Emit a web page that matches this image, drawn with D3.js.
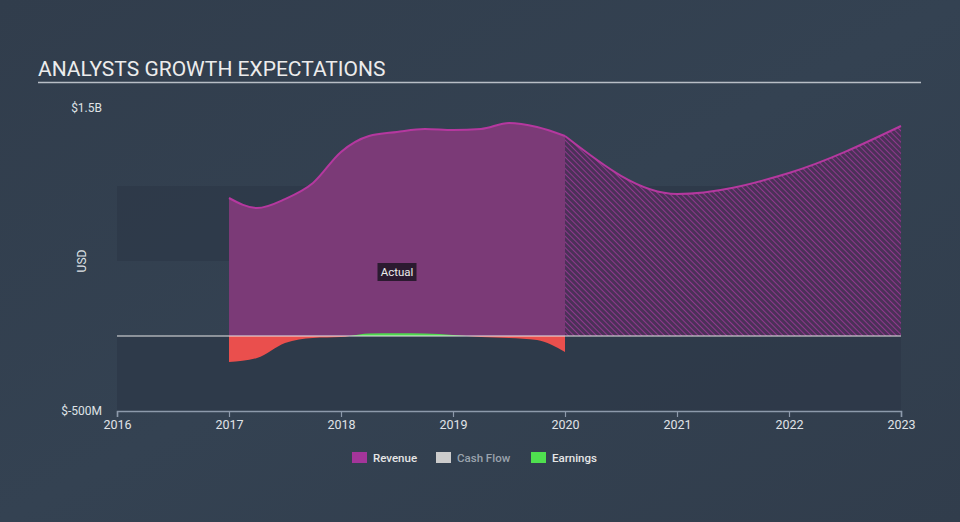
<!DOCTYPE html>
<html>
<head>
<meta charset="utf-8">
<script src="https://cdn.jsdelivr.net/npm/d3@7"></script>
<style>
  html, body { margin: 0; padding: 0; background: #344150; }
  svg { display: block; font-family: Roboto, "Open Sans", sans-serif; }
</style>
</head>
<body>
<svg id="chart" width="960" height="522"></svg>
<script>
// chart data, values in millions USD
var actualDates = [2017, 2017.25, 2017.5, 2017.75, 2018, 2018.25, 2018.5, 2018.75, 2019, 2019.25, 2019.5, 2019.75, 2020];
var revenueActual = [920, 853, 913, 1020, 1227, 1333, 1360, 1380, 1373, 1380, 1420, 1393, 1333];
var earningsActual = [-173, -147, -47, -13, -7, 17, 18, 17, 7, -7, -13, -27, -107];
var forecastDates = [2020, 2021, 2022, 2023];
var revenueForecast = [1333, 947, 1087, 1400];
var yearTicks = [2016, 2017, 2018, 2019, 2020, 2021, 2022, 2023];
var yTickValues = [-500, 1500];
var yTickLabels = ["$-500M", "$1.5B"];
var legendItems = ["Revenue", "Cash Flow", "Earnings"];
var legendColors = ["#a4359a", "#cccccc", "#4fe04f"];
var legendText = ["#e6e6e6", "#9aa3ad", "#e6e6e6"];

var svg = d3.select("#chart");
var mLeft = 117, mRight = 901, mTop = 111, mBottom = 411;

var x = d3.scaleLinear().domain([2016, 2023]).range([mLeft, mRight]);
var y = d3.scaleLinear().domain([-500, 1500]).range([mBottom, mTop]);

var defs = svg.append("defs");

// background
var bg = defs.append("linearGradient").attr("id", "bg").attr("x1", 0).attr("y1", 0).attr("x2", 1).attr("y2", 1);
bg.append("stop").attr("offset", "0%").attr("stop-color", "#313d4c");
bg.append("stop").attr("offset", "50%").attr("stop-color", "#344252");
bg.append("stop").attr("offset", "100%").attr("stop-color", "#313d4c");
svg.append("rect").attr("width", 960).attr("height", 522).attr("fill", "url(#bg)");

// hatch for forecast
var pat = defs.append("pattern").attr("id", "hatch")
  .attr("patternUnits", "userSpaceOnUse").attr("width", 4).attr("height", 4)
  .attr("patternTransform", "rotate(-45)");
pat.append("rect").attr("width", 4).attr("height", 4).attr("fill", "#4b3158");
pat.append("line").attr("x1", 0).attr("y1", 0).attr("x2", 0).attr("y2", 4)
  .attr("stroke", "#973893").attr("stroke-width", 1.8);

defs.append("clipPath").attr("id", "above").append("rect")
  .attr("x", mLeft).attr("y", 0).attr("width", mRight - mLeft).attr("height", y(0));
defs.append("clipPath").attr("id", "below").append("rect")
  .attr("x", mLeft).attr("y", y(0)).attr("width", mRight - mLeft).attr("height", 522);

// darker bands
[[-500, 0], [500, 1000]].forEach(function(b){
  svg.append("rect")
    .attr("x", mLeft).attr("width", mRight - mLeft)
    .attr("y", y(b[1])).attr("height", y(b[0]) - y(b[1]))
    .attr("fill", "#2c3847").attr("opacity", 0.7);
});

// title
svg.append("text").attr("x", 38).attr("y", 76)
  .attr("fill", "#ececec").attr("font-size", 21).text("ANALYSTS GROWTH EXPECTATIONS");
svg.append("line").attr("x1", 38).attr("x2", 921).attr("y1", 82.5).attr("y2", 82.5)
  .attr("stroke", "#b8bec6").attr("stroke-width", 1.5);

var actual = actualDates.map(function(d, i){ return {t: d, rev: revenueActual[i], earn: earningsActual[i]}; });
var forecast = forecastDates.map(function(d, i){ return {t: d, rev: revenueForecast[i]}; });

var revArea = d3.area().curve(d3.curveMonotoneX)
  .x(function(d){ return x(d.t); }).y0(y(0)).y1(function(d){ return y(d.rev); });
var revLine = d3.line().curve(d3.curveMonotoneX)
  .x(function(d){ return x(d.t); }).y(function(d){ return y(d.rev); });

svg.append("path").datum(actual).attr("d", revArea).attr("fill", "#7b3a77");
svg.append("path").datum(forecast).attr("d", revArea).attr("fill", "url(#hatch)");
svg.append("path").datum(actual).attr("d", revLine).attr("fill", "none").attr("stroke", "#b5389f").attr("stroke-width", 2);
svg.append("path").datum(forecast).attr("d", revLine).attr("fill", "none").attr("stroke", "#b5389f").attr("stroke-width", 2);

// earnings, green above zero, red below
var earnArea = d3.area().curve(d3.curveMonotoneX)
  .x(function(d){ return x(d.t); }).y0(y(0)).y1(function(d){ return y(d.earn); });
svg.append("path").datum(actual).attr("d", earnArea).attr("fill", "#4fd94f").attr("clip-path", "url(#above)");
svg.append("path").datum(actual).attr("d", earnArea).attr("fill", "#ea4f4d").attr("clip-path", "url(#below)");

// zero line
svg.append("line").attr("x1", mLeft).attr("x2", mRight).attr("y1", y(0)).attr("y2", y(0))
  .attr("stroke", "#e8e8e8").attr("stroke-width", 1.2);

// Actual label
var ax = (x(actualDates[0]) + x(actualDates[actualDates.length - 1])) / 2;
var lab = svg.append("g").attr("transform", "translate(" + ax + "," + (y(0) - 64) + ")");
lab.append("rect").attr("x", -19.5).attr("y", -9).attr("width", 39).attr("height", 18).attr("fill", "#2b1a30");
lab.append("text").attr("text-anchor", "middle").attr("dy", "0.35em")
  .attr("fill", "#ececec").attr("font-size", 11.5).text("Actual");

// x axis
var xAxis = svg.append("g").attr("transform", "translate(0," + mBottom + ")")
  .call(d3.axisBottom(x).tickValues(yearTicks).tickFormat(d3.format("d")).tickSize(6).tickPadding(3));
xAxis.select(".domain").attr("stroke", "#8d9aab").attr("stroke-width", 1.5);
xAxis.selectAll(".tick line").attr("stroke", "#8d9aab").attr("stroke-width", 1.2);
xAxis.selectAll(".tick text").attr("fill", "#e0e3e7").attr("font-size", 12.5).attr("font-family", "Roboto, sans-serif");

// y labels
svg.selectAll(".ylab").data(yTickValues).enter().append("text")
  .attr("class", "ylab").attr("x", 102).attr("y", function(d){ return y(d) - (d > 0 ? 3 : 0); })
  .attr("dy", "0.35em").attr("text-anchor", "end")
  .attr("fill", "#dfe2e6").attr("font-size", 12)
  .text(function(d, i){ return yTickLabels[i]; });

svg.append("text").attr("transform", "translate(86," + y(500) + ") rotate(-90)")
  .attr("text-anchor", "middle").attr("fill", "#dfe2e6").attr("font-size", 12).text("USD");

// legend
var legX = [352, 436, 531];
var leg = svg.selectAll(".leg").data(legendItems).enter().append("g")
  .attr("class", "leg").attr("transform", function(d, i){ return "translate(" + legX[i] + ",452)"; });
leg.append("rect").attr("width", 15).attr("height", 11).attr("fill", function(d, i){ return legendColors[i]; });
leg.append("text").attr("x", 21).attr("y", 6).attr("dy", "0.35em")
  .attr("font-size", 11.5).attr("font-weight", 500)
  .attr("fill", function(d, i){ return legendText[i]; }).text(function(d){ return d; });
</script>
</body>
</html>
